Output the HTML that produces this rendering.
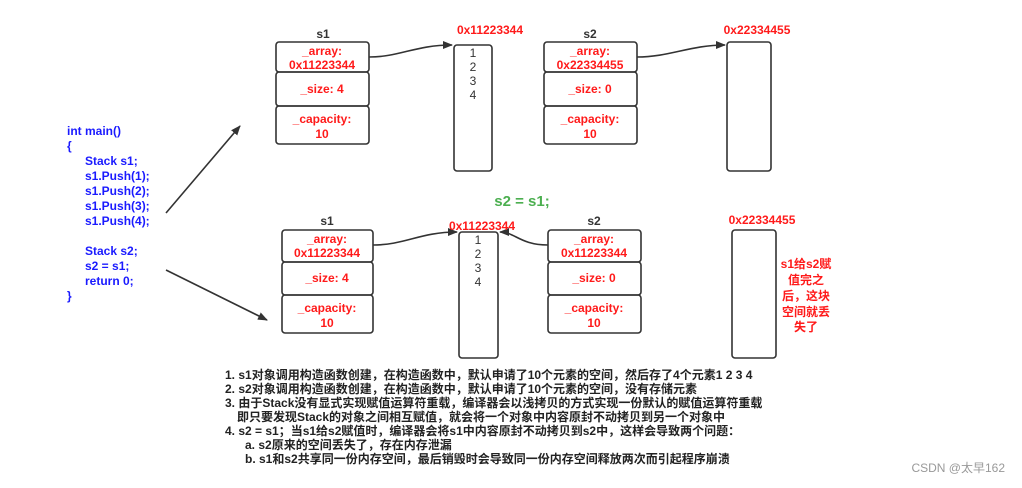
<!DOCTYPE html>
<html><head><meta charset="utf-8"><style>
body{margin:0;background:#fff;}
svg text{font-family:"Liberation Sans","Noto Sans CJK SC",sans-serif;}
</style></head><body>
<svg width="1022" height="483" xmlns="http://www.w3.org/2000/svg">
<defs><marker id="a" markerWidth="10" markerHeight="8" refX="9" refY="4" orient="auto" markerUnits="userSpaceOnUse"><path d="M0,0 L10,4 L0,8 z" fill="#333"/></marker></defs>
<g fill="none" stroke="#333" stroke-width="1.6">
<rect x="276" y="42" width="93" height="30" rx="3"/><rect x="276" y="72" width="93" height="34" rx="3"/><rect x="276" y="106" width="93" height="38" rx="3"/>
<rect x="454" y="45" width="38" height="126" rx="3"/>
<rect x="544" y="42" width="93" height="30" rx="3"/><rect x="544" y="72" width="93" height="34" rx="3"/><rect x="544" y="106" width="93" height="38" rx="3"/>
<rect x="727" y="42" width="44" height="129" rx="3"/>
<rect x="282" y="230" width="91" height="32" rx="3"/><rect x="282" y="262" width="91" height="33" rx="3"/><rect x="282" y="295" width="91" height="38" rx="3"/>
<rect x="459" y="232" width="39" height="126" rx="3"/>
<rect x="548" y="230" width="93" height="32" rx="3"/><rect x="548" y="262" width="93" height="33" rx="3"/><rect x="548" y="295" width="93" height="38" rx="3"/>
<rect x="732" y="230" width="44" height="128" rx="3"/>
<path d="M369,57 C400,57 415,45 452,45" marker-end="url(#a)"/>
<path d="M637,57 C670,57 690,45 725,45" marker-end="url(#a)"/>
<path d="M373,245 C405,245 420,232 457,232" marker-end="url(#a)"/>
<path d="M548,245 C520,245 515,232 500,232" marker-end="url(#a)"/>
<path d="M166,213 L240,126" marker-end="url(#a)"/>
<path d="M166,270 L267,320" marker-end="url(#a)"/>
</g>
<g font-weight="bold" font-size="12" text-anchor="middle" fill="#333">
<text x="323" y="38">s1</text><text x="590" y="38">s2</text>
<text x="327" y="225">s1</text><text x="594" y="225">s2</text>
</g>
<g font-size="12" text-anchor="middle" fill="#333">
<text x="473" y="57">1</text><text x="473" y="71">2</text><text x="473" y="85">3</text><text x="473" y="99">4</text>
<text x="478" y="244">1</text><text x="478" y="258">2</text><text x="478" y="272">3</text><text x="478" y="286">4</text>
</g>
<g font-weight="bold" font-size="12" text-anchor="middle" fill="#ff1a1a">
<text x="490" y="34">0x11223344</text><text x="757" y="34">0x22334455</text>
<text x="322" y="55">_array:</text><text x="322" y="69">0x11223344</text>
<text x="322" y="93">_size: 4</text>
<text x="322" y="123">_capacity:</text><text x="322" y="138">10</text>
<text x="590" y="55">_array:</text><text x="590" y="69">0x22334455</text>
<text x="590" y="93">_size: 0</text>
<text x="590" y="123">_capacity:</text><text x="590" y="138">10</text>
<text x="482" y="230">0x11223344</text><text x="762" y="224">0x22334455</text>
<text x="327" y="243">_array:</text><text x="327" y="257">0x11223344</text>
<text x="327" y="282">_size: 4</text>
<text x="327" y="312">_capacity:</text><text x="327" y="327">10</text>
<text x="594" y="243">_array:</text><text x="594" y="257">0x11223344</text>
<text x="594" y="282">_size: 0</text>
<text x="594" y="312">_capacity:</text><text x="594" y="327">10</text>
<text x="806" y="268">s1给s2赋</text><text x="806" y="284">值完之</text><text x="806" y="300">后，这块</text><text x="806" y="316">空间就丢</text><text x="806" y="331">失了</text>
</g>
<text x="522" y="206" font-weight="bold" font-size="15" fill="#4caf50" text-anchor="middle">s2 = s1;</text>
<g font-weight="bold" font-size="12" fill="#1a1aff">
<text x="67" y="135">int main()</text><text x="67" y="150">{</text>
<text x="85" y="165">Stack s1;</text><text x="85" y="180">s1.Push(1);</text><text x="85" y="195">s1.Push(2);</text><text x="85" y="210">s1.Push(3);</text><text x="85" y="225">s1.Push(4);</text>
<text x="85" y="255">Stack s2;</text><text x="85" y="270">s2 = s1;</text><text x="85" y="285">return 0;</text>
<text x="67" y="300">}</text>
</g>
<g font-size="12" fill="#222" font-weight="bold">
<text x="225" y="379">1. s1对象调用构造函数创建，在构造函数中，默认申请了10个元素的空间，然后存了4个元素1  2  3   4</text>
<text x="225" y="393">2. s2对象调用构造函数创建，在构造函数中，默认申请了10个元素的空间，没有存储元素</text>
<text x="225" y="407">3. 由于Stack没有显式实现赋值运算符重载，编译器会以浅拷贝的方式实现一份默认的赋值运算符重载</text>
<text x="237" y="421">即只要发现Stack的对象之间相互赋值，就会将一个对象中内容原封不动拷贝到另一个对象中</text>
<text x="225" y="435">4. s2 = s1；当s1给s2赋值时，编译器会将s1中内容原封不动拷贝到s2中，这样会导致两个问题：</text>
<text x="245" y="449">a. s2原来的空间丢失了，存在内存泄漏</text>
<text x="245" y="463">b. s1和s2共享同一份内存空间，最后销毁时会导致同一份内存空间释放两次而引起程序崩溃</text>
</g>
<text x="1005" y="472" font-size="12" fill="#999" text-anchor="end">CSDN @太早162</text>
</svg>
</body></html>
